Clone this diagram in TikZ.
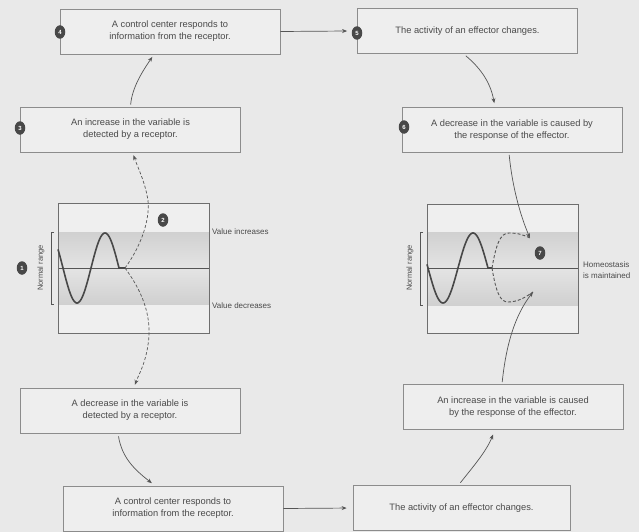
\documentclass[tikz,border=0pt]{standalone}
\usepackage{fontspec}
\setmainfont{Liberation Sans}
\usetikzlibrary{arrows.meta,calc,shapes.geometric}
\definecolor{bg}{HTML}{E9E9E9}
\definecolor{boxfill}{HTML}{EEEEEE}
\definecolor{boxline}{HTML}{8C8C8C}
\definecolor{txt}{HTML}{4A4A4A}
\definecolor{ink}{HTML}{555555}
\definecolor{bandd}{HTML}{D0D0D0}
\definecolor{bandl}{HTML}{E4E4E4}
\definecolor{chartbg}{HTML}{EFEFEF}
\tikzset{
 stepbox/.style={draw=boxline, fill=boxfill, line width=0.8pt, minimum width=220pt, minimum height=45pt, align=center, font=\fontsize{9.3}{12}\selectfont, text=txt, inner sep=0pt},
 num/.style={ellipse, fill=ink!85!black, text=white, font=\fontsize{6}{6}\selectfont\bfseries, inner sep=0pt, minimum width=10.5pt, minimum height=13.5pt},
 flow/.style={draw=ink, line width=0.7pt, -{Stealth[length=5pt,width=4pt]}},
 dflow/.style={flow, dash pattern=on 3pt off 2pt},
 dline/.style={draw=ink, line width=0.9pt, dash pattern=on 3pt off 2pt},
 lbl/.style={font=\fontsize{8}{11}\selectfont, text=txt, inner sep=0pt, anchor=west, align=left},
 frame/.style={draw=ink!85, line width=1pt},
 wave/.style={draw=ink!85!black, line width=1.6pt},
}
\begin{document}
\begin{tikzpicture}[x=1pt,y=-1pt]
\fill[bg] (0,0) rectangle (639,532);
\useasboundingbox (0,0) rectangle (639,532);

% boxes
\node[stepbox] (b4) at (170,31.5) {A control center responds to\\information from the receptor.};
\node[stepbox] (b5) at (467.5,31) {The activity of an effector changes.};
\node[stepbox] (b3) at (130.5,129.5) {An increase in the variable is\\detected by a receptor.};
\node[stepbox] (b6) at (512,130) {A decrease in the variable is caused by\\the response of the effector.};
\node[stepbox] (b8) at (130,410.5) {A decrease in the variable is\\detected by a receptor.};
\node[stepbox] (b11) at (513,407) {An increase in the variable is caused\\by the response of the effector.};
\node[stepbox] (b9) at (173,508.5) {A control center responds to\\information from the receptor.};
\node[stepbox, minimum width=217pt] (b10) at (461.5,508) {The activity of an effector changes.};

% left chart
\fill[chartbg] (58,203) rectangle (209,333);
\shade[top color=bandd, bottom color=bandl] (58,232) rectangle (209,268);
\shade[top color=bandl, bottom color=bandd] (58,268) rectangle (209,304);
\draw[draw=ink, line width=0.8pt] (58,268) -- (209,268);
\draw[frame] (58,203) rectangle (209,333);
\draw[wave] plot[domain=58:119, samples=80] (\x,{268+35*sin((\x-63)/28*180)}) -- (125,268);
\coordinate (p2) at (125,268);
\draw[ink, line width=0.7pt] (54,232) -- (51,232) -- (51,304) -- (54,304);
\node[font=\fontsize{7.5}{9}\selectfont, text=txt, rotate=90] (nrL) at (41,268) {Normal range};
\node[lbl] (vi) at (212,232) {Value increases};
\node[lbl] (vd) at (212,306) {Value decreases};

% right chart
\fill[chartbg] (427,204) rectangle (578,333);
\shade[top color=bandd, bottom color=bandl] (427,232) rectangle (578,268);
\shade[top color=bandl, bottom color=bandd] (427,268) rectangle (578,305);
\draw[draw=ink, line width=0.8pt] (427,268) -- (578,268);
\draw[frame] (427,204) rectangle (578,333);
\draw[wave] plot[domain=427:488, samples=80] (\x,{268+35*sin((\x-428)/30*180)}) -- (492,268);
\coordinate (q0) at (492,268);
\coordinate (t7a) at (530,238);
\coordinate (t7b) at (533,292);
\draw[dline] (q0) .. controls (496,245) and (500,233) .. (509,233) .. controls (518,233) and (524,235) .. (t7a);
\draw[dline] (q0) .. controls (496,292) and (500,302) .. (508,302) .. controls (518,302) and (526,297) .. (t7b);
\draw[ink, line width=0.7pt] (423,232) -- (420,232) -- (420,305) -- (423,305);
\node[font=\fontsize{7.5}{9}\selectfont, text=txt, rotate=90] (nrR) at (410,268) {Normal range};
\node[lbl] (hm) at (583,270) {Homeostasis\\is maintained};

% connectors
\draw[flow, shorten <=2pt, shorten >=3pt] (b3.north) .. controls (132,88) and (142,72) .. ([xshift=-16pt]b4.south);
\draw[flow, shorten >=1pt] (b4.east) -- ([xshift=-9pt]b5.west);
\draw[flow, shorten <=3pt, shorten >=4pt] ([xshift=-4pt]b5.south) .. controls (478,66) and (490,80) .. ([xshift=-17pt]b6.north);
\draw[dflow, shorten >=3pt] (p2) .. controls (142,245) and (152,215) .. (147,195) .. controls (144,180) and (138,168) .. ([xshift=2pt]b3.south);
\draw[dflow, shorten >=3pt] (p2) .. controls (145,295) and (152,320) .. (148,345) .. controls (145,365) and (138,376) .. ([xshift=4pt]b8.north);
\draw[flow, shorten <=2pt] ([xshift=-3pt]b6.south) .. controls (512,185) and (520,215) .. (t7a);
\draw[flow, shorten <=2pt] ([xshift=-11pt]b11.north) .. controls (506,345) and (515,315) .. (t7b);
\draw[flow, shorten <=3pt, shorten >=4pt] ([xshift=-12pt]b8.south) .. controls (122,458) and (135,470) .. ([xshift=-18pt]b9.north);
\draw[flow, shorten >=6pt] (b9.east) -- (b10.west);
\draw[flow, shorten <=3pt, shorten >=5pt] ([xshift=-3pt]b10.north) .. controls (472,468) and (486,452) .. ([xshift=-18pt]b11.south);

% step numbers
\node[num] (c1) at (22,268) {1};
\node[num] (c2) at (163,220) {2};
\node[num] (c3) at (20,128) {3};
\node[num] (c4) at (60,32) {4};
\node[num] (c5) at (357,33) {5};
\node[num] (c6) at (404,127) {6};
\node[num] (c7) at (540,253) {7};
\end{tikzpicture}
\end{document}
